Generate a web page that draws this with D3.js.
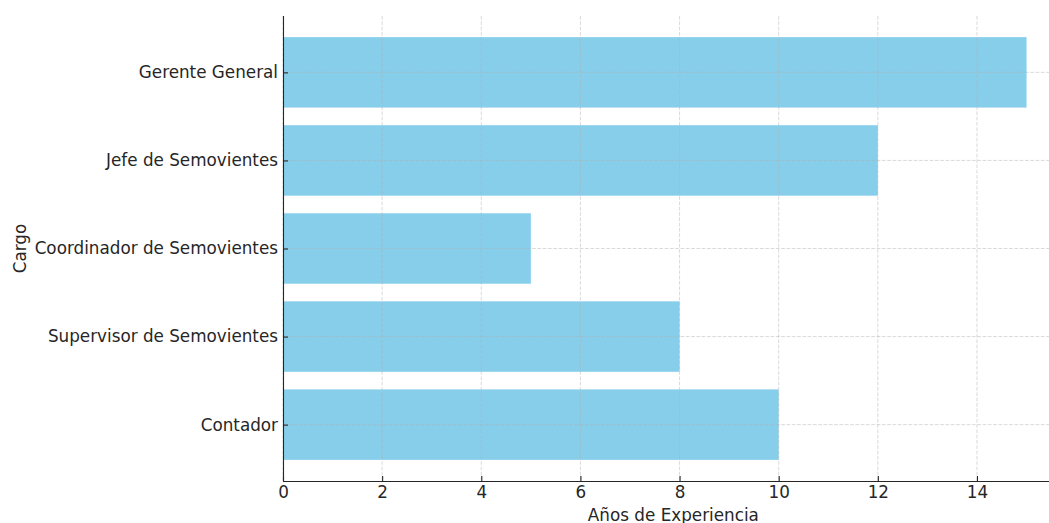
<!DOCTYPE html>
<html><head><meta charset="utf-8">
<script src="https://cdn.jsdelivr.net/npm/d3@7"></script>
<style>
body{margin:0;background:#fff;}
text{font-family:"DejaVu Sans",sans-serif;fill:#262626;}
</style></head>
<body><svg id="c" width="1049" height="523"></svg>
<script>
const categories = ["Contador","Supervisor de Semovientes","Coordinador de Semovientes","Jefe de Semovientes","Gerente General"];
const years = [10, 8, 5, 12, 15];
const xTicks = [0,2,4,6,8,10,12,14];

(function(){
const svg = d3.select("#c");
const mLeft = 283, mTop = 16, mBottom = 481;
const x = d3.scaleLinear().domain([0, 15.75]).range([mLeft, mLeft + 15.75*49.57]);
const y = d3.scaleLinear().domain([-0.64, 4.64]).range([mBottom, mTop]);
const bh = y(0) - y(0.8);
const fs = "16.8px";

const g = svg.append("g");
g.selectAll("rect.bar").data(categories).join("rect")
  .attr("x", x(0)).attr("y", (d,i)=>y(i+0.4))
  .attr("width", (d,i)=>x(years[i])-x(0)).attr("height", bh)
  .attr("fill", "#87CEEB");
g.selectAll("line.vg").data(xTicks).join("line")
  .attr("x1", d=>x(d)).attr("x2", d=>x(d)).attr("y1", mTop).attr("y2", mBottom)
  .attr("stroke", "#b0b0b0").attr("stroke-opacity",0.6).attr("stroke-dasharray","3.7,1.6").attr("stroke-width",0.8);
g.selectAll("line.hg").data(categories).join("line")
  .attr("x1", mLeft).attr("x2", 1049).attr("y1", (d,i)=>y(i)).attr("y2", (d,i)=>y(i))
  .attr("stroke", "#b0b0b0").attr("stroke-opacity",0.6).attr("stroke-dasharray","3.7,1.6").attr("stroke-width",0.8);

const xAxis = d3.axisBottom(x).tickValues(xTicks).tickSizeInner(-5).tickSizeOuter(0).tickPadding(5.5).tickFormat(d3.format("d"));
const ax = svg.append("g").attr("transform",`translate(0,${mBottom})`).call(xAxis);
ax.select(".domain").attr("d", `M${mLeft},0.5H1049`);
const yAxis = d3.axisLeft(y).tickValues(d3.range(categories.length)).tickSizeInner(-5).tickSizeOuter(0).tickPadding(5).tickFormat(i=>categories[i]);
const ay = svg.append("g").attr("transform",`translate(${mLeft},0)`).call(yAxis);
ay.select(".domain").attr("d", `M0.5,${mTop}V${mBottom}`);
[ax, ay].forEach(a=>{
  a.selectAll(".domain").attr("stroke","#262626").attr("stroke-width",1.1).attr("fill","none");
  a.selectAll(".tick line").attr("stroke","#262626").attr("stroke-width",1.1);
  a.selectAll(".tick text").style("font-size",fs).attr("fill","#262626").attr("font-family","DejaVu Sans");
});

svg.append("text").attr("x", (x(0)+x(15.75))/2).attr("y", 521).attr("text-anchor","middle")
  .style("font-size",fs).text("Años de Experiencia");
svg.append("text").attr("transform",`translate(26,${(mTop+mBottom)/2}) rotate(-90)`).attr("text-anchor","middle")
  .style("font-size",fs).text("Cargo");
})();
</script></body></html>
